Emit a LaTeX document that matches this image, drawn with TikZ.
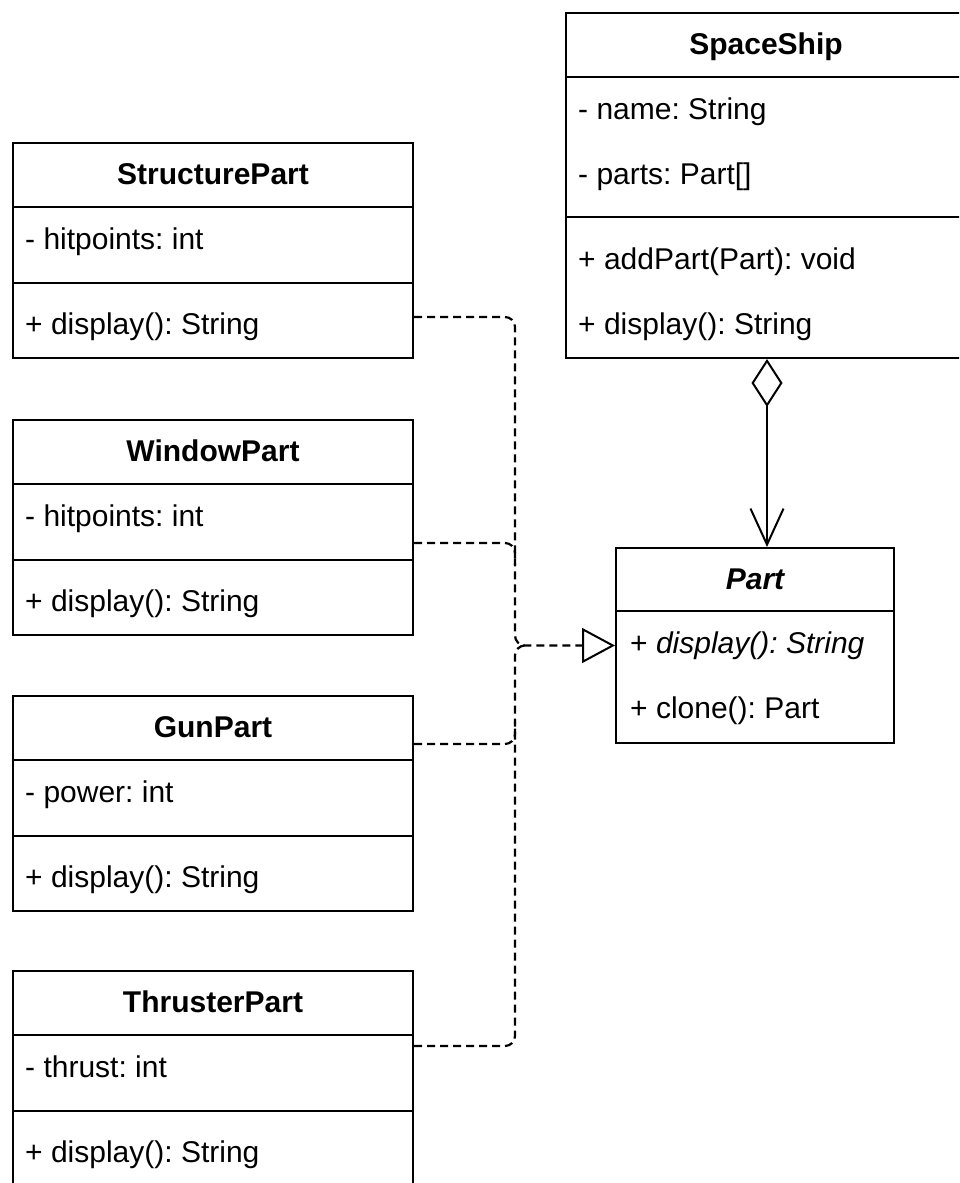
\documentclass[tikz,border=0pt]{standalone}
\usepackage{fontspec}
\setmainfont{Liberation Sans}
\usetikzlibrary{arrows.meta,calc}
\frenchspacing

\begin{document}
\begin{tikzpicture}[x=1pt,y=-1pt,
  classbox/.style={draw, line width=2pt, fill=white, anchor=north west,
                   minimum width=400pt, inner sep=0pt},
  member/.style={anchor=base west, inner sep=0pt, font=\fontsize{30}{36}\selectfont},
  title/.style={anchor=base, inner sep=0pt, font=\fontsize{30}{36}\selectfont\bfseries},
  sepline/.style={line width=2pt},
  realize/.style={line width=2.2pt, dash pattern=on 8pt off 5pt},
  realizetip/.style={-{Triangle[open, length=33pt, width=35pt, line width=2pt]}},
  aggregate/.style={line width=2pt,
    {Diamond[open, length=48pt, width=31pt, line width=2pt]}-{Straight Barb[length=36pt, width=33pt, line width=2pt]}}
]
\useasboundingbox (0,0) rectangle (959,1183);
\clip (0,0) rectangle (959,1183);

% ---------- SpaceShip ----------
\node[classbox, minimum height=345pt] (spaceship) at (565,12) {};
\draw[sepline] ($(spaceship.north west)+(0,65)$) -- ($(spaceship.north east)+(0,65)$);
\draw[sepline] ($(spaceship.north west)+(0,205)$) -- ($(spaceship.north east)+(0,205)$);
\node[title] (spaceship-t) at ($(spaceship.north)+(0,42.5)$) {SpaceShip};
\node[member] (spaceship-a1) at ($(spaceship.north west)+(13,107.5)$) {- name: String};
\node[member] (spaceship-a2) at ($(spaceship.north west)+(13,172.5)$) {- parts: Part[]};
\node[member] (spaceship-m1) at ($(spaceship.north west)+(13,257.5)$) {+ addPart(Part): void};
\node[member] (spaceship-m2) at ($(spaceship.north west)+(13,322.5)$) {+ display(): String};

% ---------- concrete parts ----------
\foreach \nm/\ytop/\title/\attr in {
    structure/142/StructurePart/{- hitpoints: int},
    window/419/WindowPart/{- hitpoints: int},
    gun/695/GunPart/{- power: int},
    thruster/970/ThrusterPart/{- thrust: int}}{
  \node[classbox, minimum height=215pt] (\nm) at (12,\ytop) {};
  \draw[sepline] ($(\nm.north west)+(0,65)$) -- ($(\nm.north east)+(0,65)$);
  \draw[sepline] ($(\nm.north west)+(0,141)$) -- ($(\nm.north east)+(0,141)$);
  \node[title] (\nm-t) at ($(\nm.north)+(0,42.5)$) {\title};
  \node[member] (\nm-a1) at ($(\nm.north west)+(13,107.5)$) {\attr};
  \node[member] (\nm-m1) at ($(\nm.north west)+(13,192.5)$) {+ display(): String};
}

% ---------- Part ----------
\node[classbox, minimum width=278pt, minimum height=195pt] (part) at (615,547) {};
\draw[sepline] ($(part.north west)+(0,64)$) -- ($(part.north east)+(0,64)$);
\node[title, font=\fontsize{30}{36}\selectfont\bfseries\itshape] (part-t) at ($(part.north)+(0,42)$) {Part};
\node[member] (part-m1) at ($(part.north west)+(15,106.5)$) {+ \textit{display(): String}};
\node[member] (part-m2) at ($(part.north west)+(15,171.5)$) {+ clone(): Part};

% ---------- aggregation SpaceShip <>-- Part ----------
\draw[aggregate] ($(spaceship.south west)+(202,0)$) -- ($(part.north west)+(152,0)$);

% ---------- realizations into Part ----------
\coordinate (bus) at (515,0);
\coordinate (s1) at ($(structure.north east)+(0,175)$);
\coordinate (w1) at ($(window.north east)+(0,124)$);
\coordinate (g1) at ($(gun.north east)+(0,49)$);
\coordinate (t1) at ($(thruster.north east)+(0,76)$);

\draw[realize, realizetip, rounded corners=10pt] (s1) -| (bus |- part.west) -- (part.west);
\draw[realize, rounded corners=10pt] (t1) -| (bus |- part.west) -- ++(12,0);
\draw[realize, rounded corners=10pt] (w1) -| ($(bus |- w1)+(0,22)$);
\draw[realize, rounded corners=10pt] (g1) -| ($(bus |- g1)+(0,-22)$);
\end{tikzpicture}
\end{document}
